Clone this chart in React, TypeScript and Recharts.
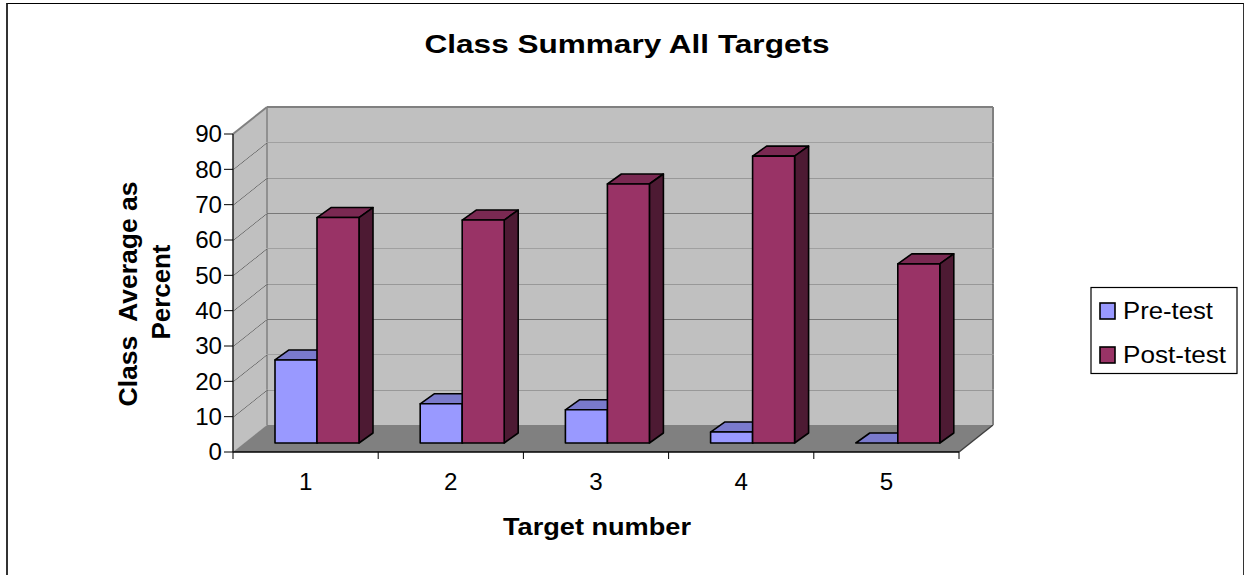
import React from "react";
import { BarChart, Bar, XAxis, YAxis, ReferenceArea } from "recharts";

const TARGETS = ["1", "2", "3", "4", "5"];
const PRE_TEST = [23.5, 11.1, 9.4, 3.1, 0];
const POST_TEST = [63.8, 63.1, 73.3, 81.2, 50.7];
const Y_TICKS = [0, 10, 20, 30, 40, 50, 60, 70, 80, 90];

const data = TARGETS.map((target, i) => ({
  target,
  pre: PRE_TEST[i],
  post: POST_TEST[i],
}));

const W = 1249;
const H = 575;
const Y_AXIS_W = 60;
const X_AXIS_H = 40;
const MARGIN = { top: 134, right: 290, bottom: 83, left: 173 };
const PLOT_W = W - MARGIN.left - MARGIN.right - Y_AXIS_W;
const PLOT_BOTTOM = H - MARGIN.bottom - X_AXIS_H;

// fake 3d: wall depth, bar placement inside the box, bar thickness
const WALL_DX = 34;
const WALL_DY = -27;
const BAR_DX = 11;
const BAR_DY = -9;
const BOX_DX = 14;
const BOX_DY = -10;

const STRETCH = 1.05;
const TICK_FONT = 23;
const FONT = "'Liberation Sans', Arial, sans-serif";

function WallBand(props: any) {
  const { x, y, width, height, isTop, isBottom } = props;
  const bx = x + WALL_DX;
  const by = y + WALL_DY;
  const edge = isTop ? "#808080" : "#000";
  return (
    <g>
      <rect x={bx} y={by} width={width} height={height + 0.5} fill="#c0c0c0" />
      <polygon
        points={`${x},${y + height + 0.5} ${x},${y} ${bx},${by} ${bx},${by + height + 0.5}`}
        fill="#c0c0c0"
      />
      {isBottom && (
        <g>
          <polygon
            points={`${x},${y + height} ${x + width},${y + height} ${bx + width},${by + height} ${bx},${by + height}`}
            fill="#808080"
          />
          <line
            x1={x + width}
            y1={y + height}
            x2={bx + width}
            y2={by + height}
            stroke="#404040"
            strokeWidth={1.5}
          />
        </g>
      )}
      <line x1={bx} y1={by} x2={bx} y2={by + height} stroke="#808080" strokeWidth={1.5} />
      <line
        x1={bx + width}
        y1={by}
        x2={bx + width}
        y2={by + height}
        stroke="#808080"
        strokeWidth={2}
      />
      <line
        x1={bx}
        y1={by}
        x2={bx + width}
        y2={by}
        stroke={edge}
        strokeWidth={isTop ? 2 : 1.4}
      />
      <line x1={x} y1={y} x2={bx} y2={by} stroke={edge} strokeWidth={isTop ? 2 : 1.2} />
    </g>
  );
}

function Box3D(props: any) {
  const { x, y, width, height, front, top, side } = props;
  const fx = x + BAR_DX;
  const fy = y + BAR_DY;
  const h = Math.max(height || 0, 0);
  return (
    <g stroke="#000" strokeWidth={1.6} strokeLinejoin="round">
      <polygon
        points={`${fx},${fy} ${fx + BOX_DX},${fy + BOX_DY} ${fx + width + BOX_DX},${fy + BOX_DY} ${fx + width},${fy}`}
        fill={top}
      />
      <polygon
        points={`${fx + width},${fy} ${fx + width + BOX_DX},${fy + BOX_DY} ${fx + width + BOX_DX},${fy + h + BOX_DY} ${fx + width},${fy + h}`}
        fill={side}
      />
      <rect x={fx} y={fy} width={width} height={h} fill={front} />
    </g>
  );
}

function YTick(props: any) {
  const { x, y, payload } = props;
  return (
    <text
      transform={`translate(${x},${y}) scale(${STRETCH},1)`}
      textAnchor="end"
      dy="0.36em"
      fontSize={TICK_FONT}
      fontFamily={FONT}
      fill="#000"
    >
      {payload.value}
    </text>
  );
}

function XTick(props: any) {
  const { x, payload } = props;
  const index = props.index ?? payload.index ?? 0;
  const half = PLOT_W / TARGETS.length / 2;
  return (
    <g>
      <line x1={x - half} y1={PLOT_BOTTOM} x2={x - half} y2={PLOT_BOTTOM + 7} stroke="#000" />
      {index === TARGETS.length - 1 && (
        <line x1={x + half} y1={PLOT_BOTTOM} x2={x + half} y2={PLOT_BOTTOM + 7} stroke="#000" />
      )}
      <text
        transform={`translate(${x},${PLOT_BOTTOM + 38}) scale(${STRETCH},1)`}
        textAnchor="middle"
        fontSize={TICK_FONT}
        fontFamily={FONT}
        fill="#000"
      >
        {payload.value}
      </text>
    </g>
  );
}

export default function App() {
  return (
    <div
      style={{
        position: "fixed",
        left: 0,
        top: 0,
        width: W,
        height: H,
        overflow: "hidden",
        background: "#fff",
      }}
    >
      <div
        style={{
          position: "absolute",
          left: 6,
          top: 3,
          width: 1238,
          height: 700,
          boxSizing: "border-box",
          borderLeft: "2px solid #333",
          borderTop: "1.5px solid #000",
          borderRight: "1.5px solid #333",
        }}
      />
      <div style={{ position: "absolute", left: 0, top: 0 }}>
        <BarChart width={W} height={H} data={data} margin={MARGIN} barGap={0}>
          {Y_TICKS.slice(0, -1).map((lo, i) => (
            <ReferenceArea
              key={lo}
              y1={lo}
              y2={Y_TICKS[i + 1]}
              ifOverflow="visible"
              shape={(p: any) => (
                <WallBand {...p} isBottom={i === 0} isTop={i === Y_TICKS.length - 2} />
              )}
            />
          ))}
          <XAxis
            dataKey="target"
            height={X_AXIS_H}
            tickLine={false}
            axisLine={{ stroke: "#000", strokeWidth: 1.5 }}
            tick={<XTick />}
            interval={0}
          />
          <YAxis
            domain={[0, 90]}
            ticks={Y_TICKS}
            interval={0}
            width={Y_AXIS_W}
            tickSize={9}
            tickLine={{ stroke: "#000" }}
            axisLine={{ stroke: "#222", strokeWidth: 1.5 }}
            tick={<YTick />}
          />
          <Bar
            dataKey="pre"
            name="Pre-test"
            fill="#9999ff"
            barSize={42}
            isAnimationActive={false}
            shape={(p: any) => <Box3D {...p} front="#9999ff" top="#7a7acc" side="#5c5c99" />}
          />
          <Bar
            dataKey="post"
            name="Post-test"
            fill="#993366"
            barSize={42}
            isAnimationActive={false}
            shape={(p: any) => <Box3D {...p} front="#993366" top="#7a2952" side="#4d1a33" />}
          />
        </BarChart>
      </div>
      <svg
        width={W}
        height={H}
        style={{ position: "absolute", left: 0, top: 0, pointerEvents: "none" }}
        fontFamily={FONT}
      >
        <text
          x={627}
          y={53}
          textAnchor="middle"
          fontSize={26.5}
          fontWeight="bold"
          textLength={405}
          lengthAdjust="spacingAndGlyphs"
        >
          Class Summary All Targets
        </text>
        <text
          transform="translate(137,294) rotate(-90)"
          textAnchor="middle"
          fontSize={26}
          fontWeight="bold"
          textLength={225}
          lengthAdjust="spacingAndGlyphs"
          xmlSpace="preserve"
        >
          Class  Average as
        </text>
        <text
          transform="translate(170,292) rotate(-90)"
          textAnchor="middle"
          fontSize={26}
          fontWeight="bold"
          textLength={95}
          lengthAdjust="spacingAndGlyphs"
        >
          Percent
        </text>
        <text
          x={597}
          y={535}
          textAnchor="middle"
          fontSize={23}
          fontWeight="bold"
          textLength={188}
          lengthAdjust="spacingAndGlyphs"
        >
          Target number
        </text>
        <rect x={1091} y={287.5} width={146} height={86} fill="#fff" stroke="#000" strokeWidth={1.2} />
        <rect x={1100} y={303} width={15} height={16} fill="#9999ff" stroke="#000" strokeWidth={1.6} />
        <text x={1123} y={319} fontSize={23} textLength={90} lengthAdjust="spacingAndGlyphs">
          Pre-test
        </text>
        <rect x={1100} y={347} width={15} height={16} fill="#993366" stroke="#000" strokeWidth={1.6} />
        <text x={1123} y={363} fontSize={23} textLength={103} lengthAdjust="spacingAndGlyphs">
          Post-test
        </text>
      </svg>
    </div>
  );
}
